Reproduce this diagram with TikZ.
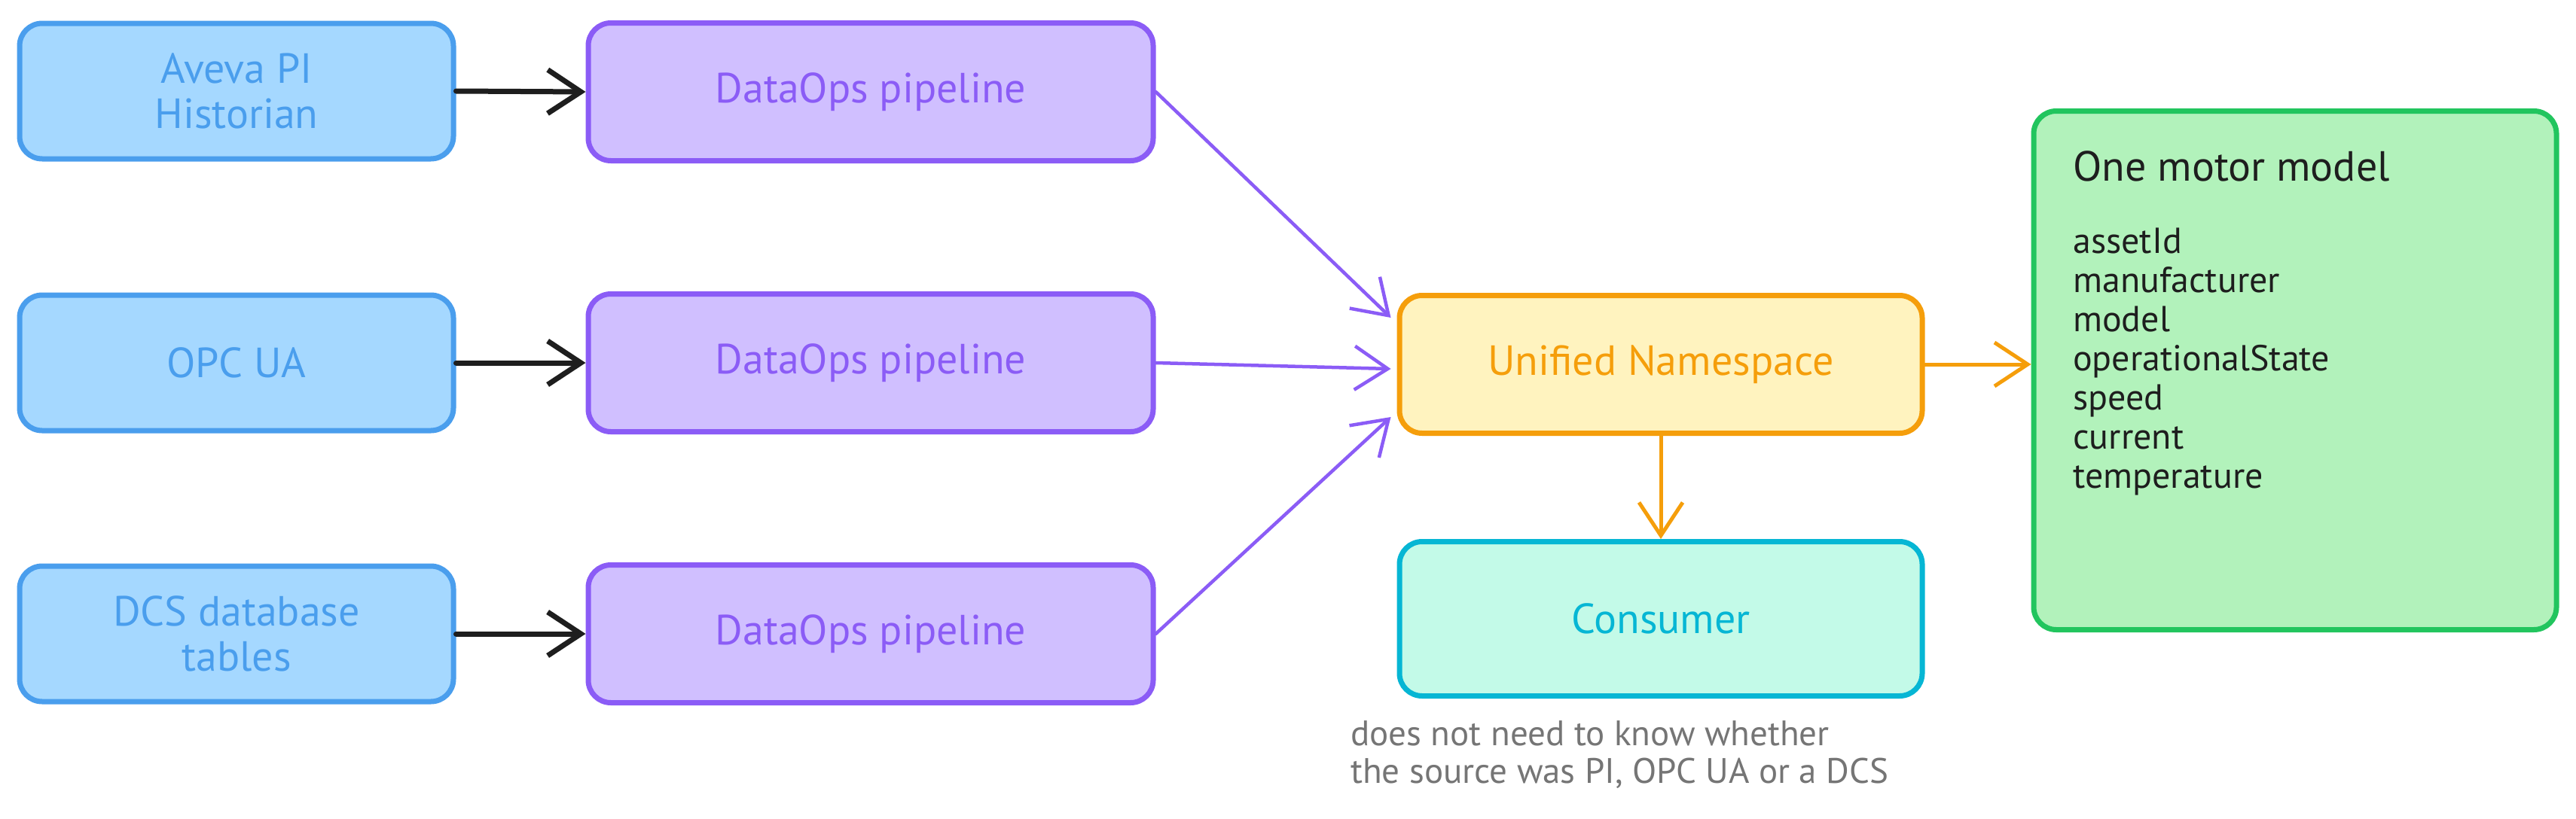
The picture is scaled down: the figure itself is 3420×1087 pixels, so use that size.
\documentclass[tikz,border=0pt]{standalone}
\usepackage{fontspec}
\setmainfont{PT Sans}
\usetikzlibrary{arrows.meta,calc}
\definecolor{bstroke}{HTML}{4A9EED}
\definecolor{bfill}{HTML}{A5D8FF}
\definecolor{pstroke}{HTML}{8B5CF6}
\definecolor{pfill}{HTML}{D0BFFF}
\definecolor{ostroke}{HTML}{F59E0B}
\definecolor{ofill}{HTML}{FFF3BF}
\definecolor{cstroke}{HTML}{06B6D4}
\definecolor{cfill}{HTML}{C3FAE8}
\definecolor{gstroke}{HTML}{22C55E}
\definecolor{gfill}{HTML}{B2F2BB}
\definecolor{ink}{HTML}{1E1E1E}
\definecolor{notegray}{HTML}{757575}
\tikzset{
  box/.style={draw, rounded corners=30pt, line width=7pt, align=center, inner sep=0pt,
    font=\fontsize{56}{60}\selectfont},
  srcbox/.style={box, draw=bstroke, fill=bfill, text=bstroke, minimum width=576pt, minimum height=180pt},
  pipebox/.style={box, draw=pstroke, fill=pfill, text=pstroke, minimum width=750pt, minimum height=183pt},
  unsbox/.style={box, draw=ostroke, fill=ofill, text=ostroke, minimum width=694pt, minimum height=183pt},
  conbox/.style={box, draw=cstroke, fill=cfill, text=cstroke, minimum width=694pt, minimum height=205pt},
  modelbox/.style={box, draw=gstroke, fill=gfill, minimum width=694pt, minimum height=689pt},
  head/.style={-{Straight Barb[length=44pt,width=58pt]}},
  blackarrow/.style={head, draw=ink, line width=7pt, line cap=round},
  purplearrow/.style={head, draw=pstroke, line width=4.5pt, line cap=round},
  orangearrow/.style={head, draw=ostroke, line width=5pt, line cap=round},
}
\begin{document}
\begin{tikzpicture}[x=1pt,y=-1pt]
\useasboundingbox (0,0) rectangle (3420,1087);
\fill[white] (0,0) rectangle (3420,1087);

\node[srcbox] (src1) at (314,121) {Aveva PI\\Historian};
\node[srcbox] (src2) at (314,482) {OPC UA};
\node[srcbox] (src3) at (314,842) {DCS database\\tables};

\node[pipebox] (pipe1) at (1156,122) {DataOps pipeline};
\node[pipebox] (pipe2) at (1156,482) {DataOps pipeline};
\node[pipebox] (pipe3) at (1156,842) {DataOps pipeline};

\node[unsbox] (uns) at (2205,484) {Unified Namespace};
\node[conbox] (con) at (2205,822) {Consumer};
\node[modelbox] (model) at (3047,492) {};

\node[anchor=base west, text=ink, inner sep=0pt, font=\fontsize{56}{60}\selectfont] (title) at (2752,240) {One motor model};
\node[anchor=base west, text=ink, inner sep=0pt, align=left, font=\fontsize{48}{52}\selectfont] (fields) at (2752,648)
  {assetId\\manufacturer\\model\\operationalState\\speed\\current\\temperature};

\node[anchor=base west, text=notegray, inner sep=0pt, align=left, font=\fontsize{47}{50}\selectfont] (note) at (1793,1040)
  {does not need to know whether\\the source was PI, OPC UA or a DCS};

\draw[blackarrow] (src1.east) -- (pipe1.west);
\draw[blackarrow] (src2.east) -- (pipe2.west);
\draw[blackarrow] (src3.east) -- (pipe3.west);

\draw[purplearrow] (pipe1.east) -- ([xshift=-8pt,yshift=62pt]uns.west);
\draw[purplearrow] (pipe2.east) -- ([xshift=-8pt,yshift=-6pt]uns.west);
\draw[purplearrow] (pipe3.east) -- ([xshift=-8pt,yshift=-70pt]uns.west);

\draw[orangearrow] (uns.east) -- (uns.east -| model.west);
\draw[orangearrow] (uns.south) -- (con.north);
\end{tikzpicture}
\end{document}
